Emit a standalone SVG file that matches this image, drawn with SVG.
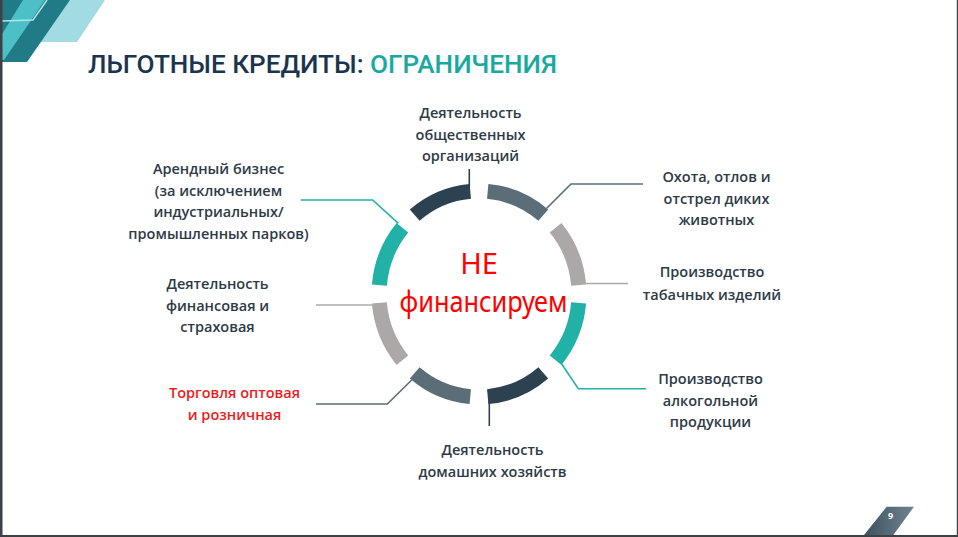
<svg xmlns="http://www.w3.org/2000/svg" width="958" height="537" viewBox="0 0 958 537">
<defs>
<style>
.lbl{font-family:"Open Sans","Noto Sans","DejaVu Sans",sans-serif;font-weight:600;font-size:14.5px;fill:#2e3a46;text-anchor:middle}
.red{fill:#ee1c1c}
.seg{fill:none;stroke-width:15}
.con{fill:none;stroke-width:1.6}
.dark{stroke:#2d4251}
.slate{stroke:#5b6d77}
.light{stroke:#aca8a7}
.teal{stroke:#22b1a7}
</style>
<linearGradient id="badge" x1="0" y1="0" x2="1" y2="0">
<stop offset="0" stop-color="#3d5262"/>
<stop offset="1" stop-color="#6f838f"/>
</linearGradient>
</defs>
<rect width="958" height="537" fill="#ffffff"/>
<!-- corner decoration -->
<g id="decor">
<polygon points="70,0 105,0 77,42 40,42" fill="#a2dbe2"/>
<polygon points="2,0 70,0 27,62 2,62" fill="#217b86"/>
<polygon points="23,0 45,0 4,60 2,60 2,34" fill="#4dbfc6"/>
<polyline points="2,21 33,20 47,0" fill="none" stroke="#b2e5ea" stroke-width="1.5"/>
</g>
<!-- frame -->
<rect x="0" y="0" width="2.5" height="537" fill="#3c4146"/>
<rect x="956.8" y="0" width="1.2" height="537" fill="#3c4146"/>
<rect x="0" y="535" width="958" height="2" fill="#3c4146"/>
<!-- title -->
<text x="88" y="72.5" font-family="Roboto,'Noto Sans',sans-serif" font-weight="500" font-size="26.5" textLength="469" lengthAdjust="spacingAndGlyphs" fill="#1b3550">ЛЬГОТНЫЕ КРЕДИТЫ: <tspan fill="#1aa9a0">ОГРАНИЧЕНИЯ</tspan></text>
<!-- ring -->
<g id="ring">
<path class="seg light" d="M578.62 285.02 A100 103 0 0 0 555.60 227.79"/>
<path class="seg slate" d="M543.28 215.10 A100 103 0 0 0 487.72 191.39"/>
<path class="seg dark" d="M470.28 191.39 A100 103 0 0 0 414.72 215.10"/>
<path class="seg teal" d="M402.40 227.79 A100 103 0 0 0 379.38 285.02"/>
<path class="seg light" d="M379.38 302.98 A100 103 0 0 0 402.40 360.21"/>
<path class="seg slate" d="M414.72 372.90 A100 103 0 0 0 470.28 396.61"/>
<path class="seg dark" d="M487.72 396.61 A100 103 0 0 0 543.28 372.90"/>
<path class="seg teal" d="M555.60 360.21 A100 103 0 0 0 578.62 302.98"/>
</g>
<g id="center">
<text x="479" y="273.5" font-family="'Noto Sans','Open Sans',sans-serif" font-size="29" fill="#ff0000" text-anchor="middle">НЕ</text>
<text x="483.5" y="311.7" font-family="'Noto Sans','Open Sans',sans-serif" font-size="29" fill="#ff0000" text-anchor="middle" textLength="168" lengthAdjust="spacingAndGlyphs">финансируем</text>
</g>
<!-- connectors -->
<g id="connectors">
<line class="con dark" x1="469.3" y1="169" x2="469.3" y2="188"/>
<polyline class="con slate" points="546.7,208.3 571,184 643,184"/>
<line class="con light" x1="586" y1="283.5" x2="628" y2="283.5"/>
<polyline class="con teal" points="561.7,364 578.3,388.7 646,388.7"/>
<line class="con dark" x1="489.3" y1="401" x2="489.3" y2="426"/>
<polyline class="con slate" points="411.7,380 387.3,404 316,404"/>
<line class="con light" x1="316" y1="305" x2="372" y2="305"/>
<polyline class="con teal" points="398.3,223.3 372.7,200 300.7,200"/>
</g>
<!-- labels -->
<g id="n-obsch"><text class="lbl" x="470.5" y="118"><tspan x="470.5">Деятельность</tspan><tspan x="470.5" dy="21.7">общественных</tspan><tspan x="470.5" dy="21.7">организаций</tspan></text></g>
<g id="n-ohota"><text class="lbl" x="716.5" y="182"><tspan x="716.5">Охота, отлов и</tspan><tspan x="716.5" dy="21.7">отстрел диких</tspan><tspan x="716.5" dy="21.7">животных</tspan></text></g>
<g id="n-tabak"><text class="lbl" x="712" y="277"><tspan x="712">Производство</tspan><tspan x="712" dy="22.5">табачных изделий</tspan></text></g>
<g id="n-alko"><text class="lbl" x="710.5" y="384"><tspan x="710.5">Производство</tspan><tspan x="710.5" dy="21.5">алкогольной</tspan><tspan x="710.5" dy="21.5">продукции</tspan></text></g>
<g id="n-dom"><text class="lbl" x="492.5" y="455"><tspan x="492.5">Деятельность</tspan><tspan x="492.5" dy="21.5">домашних хозяйств</tspan></text></g>
<g id="n-torg"><text class="lbl red" x="234.5" y="398"><tspan x="234.5">Торговля оптовая</tspan><tspan x="234.5" dy="21.5">и розничная</tspan></text></g>
<g id="n-fin"><text class="lbl" x="217.5" y="289"><tspan x="217.5">Деятельность</tspan><tspan x="217.5" dy="21.5">финансовая и</tspan><tspan x="217.5" dy="21.5">страховая</tspan></text></g>
<g id="n-arend"><text class="lbl" x="218.5" y="174"><tspan x="218.5">Арендный бизнес</tspan><tspan x="218.5" dy="21.7">(за исключением</tspan><tspan x="218.5" dy="21.7">индустриальных/</tspan><tspan x="218.5" dy="21.7">промышленных парков)</tspan></text></g>
<!-- page number -->
<g id="page">
<polygon points="886.7,506.7 914,506.7 893.3,535 864,535" fill="url(#badge)"/>
<text x="890.5" y="518.5" font-family="'Open Sans',sans-serif" font-weight="700" font-size="9" fill="#ffffff" text-anchor="middle">9</text>
</g>
</svg>
